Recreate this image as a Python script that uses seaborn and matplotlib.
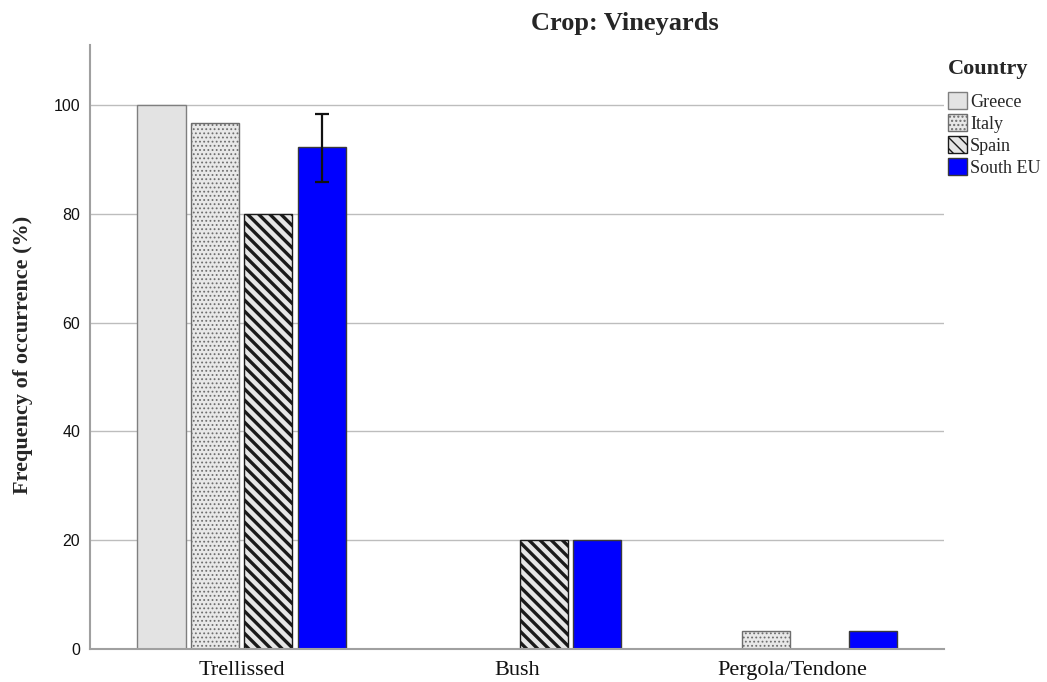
import numpy as np
import pandas as pd
import seaborn as sns
import matplotlib.pyplot as plt
from matplotlib.patches import Patch

# data
crops = ['Trellissed', 'Bush', 'Pergola/Tendone']
countries = ['Greece', 'Italy', 'Spain', 'South EU']
greece = [100.0, np.nan, np.nan]
italy = [96.7, np.nan, 3.3]
spain = [80.0, 20.0, np.nan]
south_eu = [92.2, 20.0, 3.3]
south_eu_err_low = [85.8, np.nan, np.nan]
south_eu_err_high = [98.3, np.nan, np.nan]

df = pd.DataFrame({
    'Training': crops * 4,
    'Country': np.repeat(countries, 3),
    'Freq': greece + italy + spain + south_eu,
})

fills = {'Greece': '#e3e3e3', 'Italy': '#e8e8e8', 'Spain': '#e6e6e6', 'South EU': '#0000ff'}
edges = {'Greece': '#7f7f7f', 'Italy': '#6e6e6e', 'Spain': '#1a1a1a', 'South EU': '#3a3a3a'}
hatches = {'Greece': '', 'Italy': '....', 'Spain': '\\\\\\', 'South EU': ''}
hatch_lw = {'Greece': 1.0, 'Italy': 0.8, 'Spain': 2.4, 'South EU': 1.0}

sns.set_style('white')
plt.rcParams['font.family'] = ['Liberation Serif', 'DejaVu Serif']

fig = plt.figure(figsize=(10.47, 6.82), dpi=100)
ax = fig.add_axes([0.086, 0.0484, 0.8156, 0.8856])

sns.barplot(data=df, x='Training', y='Freq', hue='Country', order=crops,
            hue_order=countries, palette=fills, saturation=1, width=0.775,
            gap=0.1, errorbar=None, legend=False, ax=ax)

for name, cont in zip(countries, ax.containers):
    for bar in cont:
        bar.set_edgecolor(edges[name])
        bar.set_linewidth(1.0)
        if hatches[name]:
            bar.set_hatch(hatches[name])
            if hasattr(bar, 'set_hatch_linewidth'):
                bar.set_hatch_linewidth(hatch_lw[name])

# error bar on South EU
seu = ax.containers[3]
for bar, lo, hi, v in zip(seu, south_eu_err_low, south_eu_err_high, south_eu):
    if np.isnan(lo):
        continue
    xc = bar.get_x() + bar.get_width() / 2
    ax.errorbar(xc, v, yerr=[[v - lo], [hi - v]], fmt='none', ecolor='#111111',
                elinewidth=1.6, capsize=4.8, capthick=1.6)

ax.set_xlim(-0.55, 2.55)
ax.set_ylim(0, 111)
ax.set_yticks([0, 20, 40, 60, 80, 100])
ax.yaxis.grid(True, color='#bdbdbd', linewidth=1)
ax.set_axisbelow(True)
for s in ['top', 'right']:
    ax.spines[s].set_visible(False)
for s in ['left', 'bottom']:
    ax.spines[s].set_color('#a0a0a0')
    ax.spines[s].set_linewidth(1.5)
ax.tick_params(length=0)
ax.tick_params(axis='x', labelsize=16, pad=9, labelcolor='#111111')
for lab in ax.get_yticklabels():
    lab.set_fontfamily('Liberation Sans')
    lab.set_fontsize(11.5)
    lab.set_color('#111111')
ax.tick_params(axis='y', pad=7)
ax.set_xlabel('')
ax.set_ylabel('Frequency of occurrence (%)', fontsize=16, fontweight='bold')
ax.yaxis.set_label_coords(-0.067, 0.487)

fig.text(0.597, 0.966, 'Crop: Vineyards', ha='center', va='center',
         fontsize=19, fontweight='bold')

handles = []
for name in countries:
    handles.append(Patch(facecolor=fills[name], edgecolor=edges[name],
                         hatch=hatches[name], label=name))
leg = fig.legend(handles=handles, title='Country', loc='upper left',
                 bbox_to_anchor=(0.905, 0.913), frameon=False, fontsize=13,
                 title_fontproperties={'weight': 'bold', 'size': 16},
                 handlelength=1.1, handleheight=1.1, handletextpad=0.15,
                 labelspacing=0.18, borderaxespad=0, borderpad=0)
leg._legend_box.align = 'left'
leg._legend_box.sep = 9

fig.savefig('out.png', dpi=100)
